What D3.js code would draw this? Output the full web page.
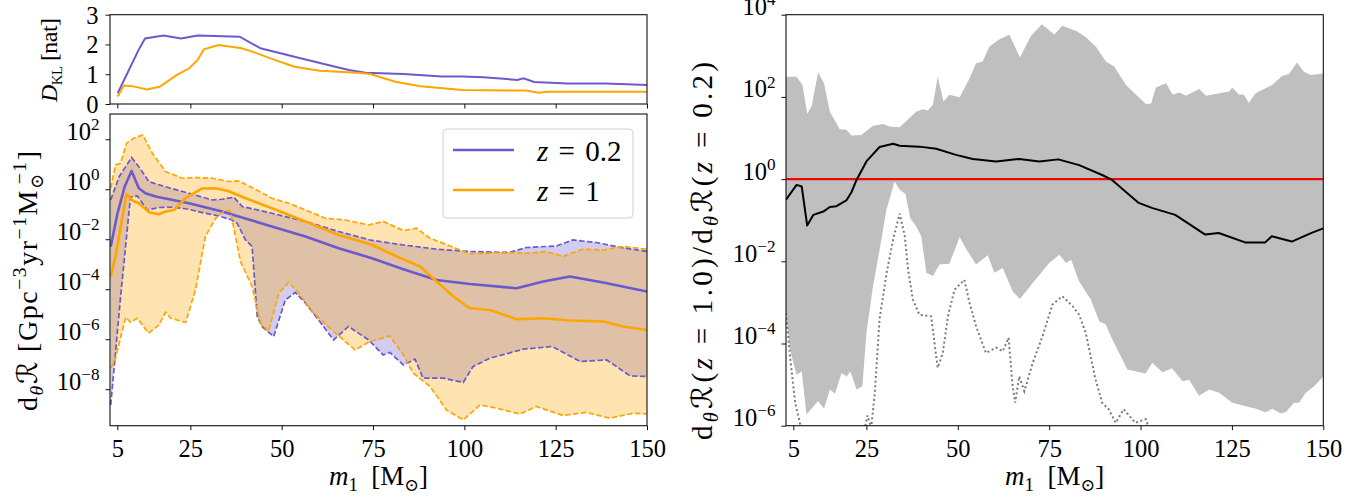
<!DOCTYPE html>
<html>
<head>
<meta charset="utf-8">
<script src="https://cdn.jsdelivr.net/npm/d3@7"></script>
<style>
  html, body { margin: 0; padding: 0; background: #fff; }
  svg text { font-family: "Liberation Serif", "DejaVu Serif", "DejaVu Sans", serif; fill: #000; }
</style>
</head>
<body>
<script>
// ---------------- DATA ----------------
const massTicks = [5, 25, 50, 75, 100, 125, 150];
const dklTicks = [0, 1, 2, 3];
const rateTickExps = [-8, -6, -4, -2, 0, 2];
const ratioTickExps = [-6, -4, -2, 0, 2, 4];

// KL divergence (top-left)
const dklMassZ02 = [5.1, 10.8, 12.6, 17.7, 22.4, 27, 38.5, 44.2, 53.5, 62.7, 68.4, 73, 83.4, 93.8, 99.5, 105.3, 114.5, 116.2, 119.1, 128.3, 138.7, 150];
const dklZ02 = [0.36, 1.81, 2.2, 2.3, 2.2, 2.3, 2.26, 1.87, 1.59, 1.31, 1.14, 1.05, 1.01, 0.92, 0.92, 0.9, 0.81, 0.86, 0.74, 0.69, 0.69, 0.64];
const dklMassZ1 = [5.1, 6.8, 9.1, 13.1, 16.6, 21.2, 24.7, 27, 28.7, 32.7, 39.1, 41.9, 47.7, 53.5, 60.4, 70.7, 74.2, 81.1, 88, 99.5, 116.8, 120.3, 122.6, 150];
const dklZ1 = [0.25, 0.62, 0.6, 0.49, 0.58, 0.97, 1.2, 1.48, 1.84, 1.98, 1.87, 1.76, 1.5, 1.25, 1.12, 1.05, 1.01, 0.75, 0.6, 0.47, 0.45, 0.38, 0.41, 0.41];

// Rate (bottom-left), values given as log10 of the rate
const massZ02Med = [3.2, 5, 7, 8.9, 10, 10.9, 12.7, 15.5, 24.6, 33.7, 38.2, 47.3, 56.5, 65.6, 74.7, 83.3, 92.4, 101.5, 114.3, 121.6, 128.9, 138, 150];
const log10Z02Med = [-2.3, -1.0, 0.1, 0.73, 0.35, 0.04, -0.16, -0.29, -0.56, -0.89, -1.09, -1.49, -1.89, -2.36, -2.76, -3.2, -3.63, -3.79, -3.96, -3.69, -3.49, -3.73, -4.09];
const massZ02Hi = [3.2, 5.5, 8.9, 10.9, 13.7, 18.2, 24.6, 31, 33.7, 36.9, 39.2, 47.3, 56.5, 65.6, 74.2, 83.3, 92.4, 101.5, 112.4, 117, 125.2, 129.7, 136.1, 142.5, 150];
const log10Z02Hi = [-0.43, 0.5, 1.27, 0.9, 0.3, 0.1, -0.16, -0.43, -0.4, -0.32, -0.69, -0.96, -1.29, -1.69, -2.03, -2.23, -2.4, -2.49, -2.53, -2.33, -2.27, -2.03, -2.13, -2.32, -2.49];
const massZ02Lo = [3.2, 5.9, 8.6, 10.5, 13.2, 16.4, 20, 24.1, 29.1, 32.8, 36.4, 37.8, 40.1, 41.9, 43.3, 44.6, 47.8, 51, 53.7, 56.5, 60.1, 64.2, 68.3, 73.8, 77.8, 79.6, 83.3, 86.5, 88.7, 94.2, 99.7, 102.4, 107, 116.1, 124, 131.7, 139, 145.4, 150];
const log10Z02Lo = [-8.63, -4.3, -0.32, -0.27, -0.83, -0.73, -0.72, -0.79, -0.96, -1.07, -1.23, -1.36, -2.03, -2.29, -5.09, -5.49, -5.89, -4.43, -4.13, -4.56, -5.23, -6.03, -5.49, -6.03, -6.63, -6.53, -7.03, -6.8, -7.56, -7.56, -7.73, -7.09, -6.76, -6.4, -6.29, -6.89, -6.83, -7.47, -7.49];
const massZ1Med = [3.2, 4.5, 7.5, 9.1, 10.9, 13.7, 16.4, 18.2, 20.5, 23.7, 28.2, 31.9, 35.5, 40.1, 47.3, 56.5, 65.6, 74.5, 81.5, 87.9, 92.4, 97, 101.5, 107, 114.3, 121.6, 128.9, 138, 143.5, 150];
const log10Z1Med = [-3.49, -2.69, -0.19, -0.45, -0.56, -0.92, -1.0, -0.89, -0.83, -0.36, 0.03, 0.04, -0.08, -0.36, -0.76, -1.29, -1.83, -2.21, -2.69, -3.09, -3.69, -4.29, -4.76, -4.83, -5.2, -5.16, -5.25, -5.29, -5.49, -5.63];
const massZ1Hi = [3.2, 4.5, 5.9, 7.5, 10, 12, 14.6, 18.2, 22.8, 26.4, 31, 35.5, 38.2, 42.8, 47.3, 51.9, 56.5, 61.9, 67.4, 73.8, 77.8, 83.3, 86.9, 90.6, 96.1, 101.5, 110.7, 117.9, 122.5, 127, 132.5, 138, 143.5, 150];
const log10Z1Hi = [0.04, 0.97, 1.04, 1.84, 2.08, 2.17, 1.44, 0.71, 0.44, 0.47, 0.44, 0.31, 0.33, 0, -0.36, -0.56, -0.83, -1.16, -1.23, -1.43, -1.29, -1.65, -1.56, -1.96, -2.27, -2.59, -2.53, -2.56, -2.49, -2.69, -2.4, -2.43, -2.29, -2.4];
const massZ1Lo = [3.2, 4.5, 7.3, 8.6, 10.5, 13.5, 16.4, 18.2, 19.6, 23.7, 26.4, 29.1, 31.9, 34.6, 36, 38.7, 41.9, 44.2, 46.4, 49.2, 51.9, 54.6, 58.3, 63.7, 70.1, 74, 79.6, 83.3, 86, 90.6, 95.1, 99.7, 104.3, 108.8, 115.2, 119.7, 127, 133.4, 139.8, 146.2, 150];
const log10Z1Lo = [-7.16, -6.76, -5.12, -5.32, -5.16, -5.76, -5.43, -4.92, -5.16, -5.33, -4.03, -1.89, -1.16, -0.83, -0.89, -2.89, -3.89, -5.36, -5.69, -4.16, -3.73, -4.13, -4.89, -5.63, -6.43, -6.1, -5.87, -6.63, -7.36, -7.89, -8.83, -9.23, -8.63, -8.76, -8.99, -8.69, -9.05, -8.93, -9.16, -8.96, -8.99];

// Ratio (right), values given as log10 of the ratio
const massRatioMed = [3, 5.9, 7.3, 8.8, 10.5, 13.2, 15, 16.8, 19.5, 20.9, 22.3, 25, 28.6, 32.3, 34.1, 39.5, 44.1, 49.5, 54.1, 60.5, 66.8, 72.3, 77.5, 83.2, 89.5, 92.2, 99.5, 103.1, 109.5, 117.7, 121.4, 128.6, 134.1, 135.9, 141.4, 146.8, 150];
const log10RatioMed = [-0.5, -0.14, -0.18, -1.13, -0.87, -0.79, -0.68, -0.66, -0.52, -0.32, -0.02, 0.43, 0.78, 0.86, 0.81, 0.79, 0.74, 0.59, 0.49, 0.43, 0.49, 0.43, 0.48, 0.34, 0.1, -0.02, -0.58, -0.7, -0.87, -1.35, -1.31, -1.54, -1.54, -1.39, -1.52, -1.31, -1.2];
const massRatioHi = [3, 5.9, 7.5, 8.8, 10, 11.8, 13.4, 15, 17.7, 19.5, 20.9, 23.6, 26.8, 29.5, 31.4, 34.1, 38.6, 40.5, 41.8, 43.2, 44.5, 46.1, 47.7, 50.5, 53.2, 55, 56.8, 58.6, 61.4, 64.1, 67, 70, 73, 76.4, 78.6, 82.3, 85, 87.8, 90.5, 92.8, 96, 98.8, 101.5, 102.9, 104.2, 107, 108.8, 110.6, 112.4, 116.1, 117.9, 124.2, 125.1, 126.9, 128.3, 129.6, 131.5, 136, 138.7, 140.6, 142.8, 144.7, 146.5, 150];
const log10RatioHi = [2.49, 2.49, 2.29, 1.59, 1.77, 2.6, 2.33, 1.64, 1.21, 1.2, 1.06, 1.07, 1.3, 1.34, 1.28, 1.26, 1.64, 1.7, 1.67, 1.81, 2.49, 1.89, 2.05, 1.99, 2.45, 2.82, 2.86, 3.22, 3.4, 3.51, 2.96, 3.48, 3.77, 3.52, 3.73, 3.61, 3.46, 3.22, 2.86, 2.74, 2.29, 2.05, 1.83, 1.84, 2.23, 2.33, 2.05, 2.11, 2.03, 2.19, 2.03, 2.13, 2.23, 2.06, 2.05, 1.86, 2.09, 2.29, 2.51, 2.56, 2.84, 2.61, 2.53, 2.57];
const massRatioLo = [3, 4.1, 5.9, 7.3, 8.6, 11.8, 13.4, 15, 16.4, 18.2, 19.6, 20.6, 22.3, 23.9, 25, 26.8, 28.6, 30.5, 32.7, 34.1, 35.7, 37, 38.6, 40, 41.4, 43.2, 45, 47.7, 50.5, 52.3, 55, 58.2, 60, 62.3, 65, 67, 70.5, 75, 77.8, 79.6, 81, 83.2, 86.4, 88.7, 90.5, 92.3, 96.4, 101.4, 103.2, 106, 108.6, 111.5, 113.3, 116, 118.8, 121.5, 125.1, 131.5, 134.2, 136, 138.3, 139.7, 142, 143.4, 145.2, 147.5, 150];
const log10RatioLo = [-3.2, -4.15, -4.76, -4.68, -5.73, -5.4, -5.59, -5.12, -5.22, -4.72, -4.8, -4.68, -5.12, -5.04, -3.74, -2.61, -1.72, -0.74, -0.06, -0.26, -0.36, -0.95, -1.15, -1.39, -2.28, -2.36, -2.08, -2.06, -1.41, -1.7, -2.08, -1.85, -2.28, -2.16, -2.73, -2.92, -2.53, -2.04, -1.84, -2.04, -1.96, -2.49, -2.93, -3.46, -3.54, -3.91, -4.63, -4.73, -4.47, -4.7, -4.6, -4.92, -4.88, -5.27, -5.12, -5.2, -5.44, -5.59, -5.67, -5.59, -5.7, -5.67, -5.44, -5.44, -5.2, -5.04, -4.8];
const massRatioDot = [3, 4.2, 5.5, 6.9, 8, 15, 23.5, 25.3, 26.3, 27.3, 28.6, 30.5, 32.3, 34.1, 35.5, 36.4, 37.7, 39.5, 42.7, 44.5, 45.9, 47.3, 49.1, 51.8, 53.2, 55, 57.7, 60.5, 62.3, 63.9, 65, 65.7, 66.8, 68.2, 70.5, 73.2, 75.9, 78.6, 81.4, 83.2, 85, 87.7, 89.5, 91.3, 93.2, 95.4, 98.6, 101.4, 102.5, 104];
const log10RatioDot = [-3.26, -4.39, -5.44, -5.97, -6.5, -7, -6.5, -5.75, -6.05, -5.2, -3.4, -2.3, -1.47, -0.84, -1.39, -2.2, -2.93, -3.3, -3.34, -4.59, -4.23, -3.34, -2.69, -2.45, -3.01, -3.58, -4.23, -4.1, -4.19, -3.86, -5.04, -5.44, -4.8, -5.16, -4.47, -3.82, -3.05, -2.85, -3.09, -3.3, -3.74, -4.88, -5.44, -5.6, -5.93, -5.6, -5.93, -5.84, -6.1, -7];

const legendLabels = [["z", " = 0.2"], ["z", " = 1"]];

// ---------------- STYLE ----------------
const C_Z02 = "#6a5acd", C_Z1 = "#ffa500";
const TICK_FS = 24.5, LABEL_FS = 27;

const svg = d3.select("body").append("svg").attr("width", 1372).attr("height", 499);

function rich(sel, parts, base) {
  let cur = 0;
  parts.forEach(p => {
    const shift = p.sup ? -0.4 * base : (p.sub ? 0.22 * base : 0);
    const ts = sel.append("tspan").text(p.t).attr("dy", (shift - cur).toFixed(2));
    ts.attr("font-size", (p.sup || p.sub) ? (base * (p.scale || 0.7)).toFixed(1) : base);
    if (p.it) ts.attr("font-style", "italic");
    if (p.dx) ts.attr("dx", p.dx);
    cur = shift;
  });
}

const pts = (ms, vs, log) => ms.map((m, i) => [m, log ? Math.pow(10, vs[i]) : vs[i]]);

function frame(g, x0, y0, x1, y1) {
  g.append("rect").attr("x", x0).attr("y", y0).attr("width", x1 - x0).attr("height", y1 - y0)
    .attr("fill", "none").attr("stroke", "#111").attr("stroke-width", 1.1);
}

function xAxis(g, x, y1, labels) {
  const ax = g.append("g").attr("transform", `translate(0,${y1})`)
    .call(d3.axisBottom(x).tickValues(massTicks).tickSize(4.5).tickPadding(9)
      .tickFormat(labels ? d3.format("d") : ""));
  ax.select(".domain").remove();
  ax.selectAll(".tick line").attr("stroke", "#111").attr("stroke-width", 1);
  if (labels) ax.selectAll("text").attr("font-size", TICK_FS).attr("font-family", null);
  else ax.selectAll("text").remove();
}

function logYAxis(g, y, x0, exps) {
  const ax = g.append("g").attr("transform", `translate(${x0},0)`)
    .call(d3.axisLeft(y).tickValues(exps.map(e => Math.pow(10, e))).tickSize(4.5).tickPadding(6).tickFormat(""));
  ax.select(".domain").remove();
  ax.selectAll(".tick line").attr("stroke", "#111").attr("stroke-width", 1);
  ax.selectAll(".tick").each(function (d) {
    const e = Math.round(Math.log10(d));
    const t = d3.select(this).select("text").attr("font-size", TICK_FS).attr("font-family", null).attr("dy", "0.36em");
    t.text(null);
    rich(t, [{ t: "10" }, { t: e < 0 ? "\u2212" + (-e) : String(e), sup: true }], TICK_FS);
  });
}

function yLabel(x, y, parts, fs, len) {
  const t = svg.append("text").attr("transform", `translate(${x},${y}) rotate(-90)`)
    .attr("text-anchor", "middle").attr("font-size", fs);
  rich(t, parts, fs);
  if (len) t.attr("textLength", len).attr("lengthAdjust", "spacing");
  return t;
}
function xLabel(x, y, fs) {
  const t = svg.append("text").attr("x", x).attr("y", y).attr("text-anchor", "middle").attr("font-size", fs);
  rich(t, [{ t: "m", it: true }, { t: "1", sub: true }, { t: "\u2002[M" }, { t: "\u2299", sub: true, scale: 0.65 }, { t: "]" }], fs);
}

// ---------------- TOP-LEFT: D_KL ----------------
const LX0 = 110, LX1 = 647;
const xL = d3.scaleLinear().domain([3, 150]).range([LX0, LX1]);
{
  const y0 = 14.7, y1 = 104;
  const y = d3.scaleLinear().domain([0, 3]).range([y1, y0]);
  const g = svg.append("g");
  const line = d3.line().x(d => xL(d[0])).y(d => y(d[1]));
  g.append("path").attr("d", line(pts(dklMassZ02, dklZ02))).attr("fill", "none").attr("stroke", C_Z02).attr("stroke-width", 2);
  g.append("path").attr("d", line(pts(dklMassZ1, dklZ1))).attr("fill", "none").attr("stroke", C_Z1).attr("stroke-width", 2);
  frame(g, LX0, y0, LX1, y1);
  xAxis(g, xL, y1, false);
  const ax = g.append("g").attr("transform", `translate(${LX0},0)`)
    .call(d3.axisLeft(y).tickValues(dklTicks).tickSize(4.5).tickPadding(7).tickFormat(d3.format("d")));
  ax.select(".domain").remove();
  ax.selectAll(".tick line").attr("stroke", "#111");
  ax.selectAll("text").attr("font-size", TICK_FS).attr("font-family", null).attr("dy", "0.34em");
  yLabel(57, 60, [{ t: "D", it: true }, { t: "KL", sub: true, scale: 0.62 }, { t: " [nat]" }], 24, 84);
}

// ---------------- BOTTOM-LEFT: rate ----------------
{
  const y0 = 114, y1 = 425.7;
  const y = d3.scaleLog().domain([Math.pow(10, -9.46), Math.pow(10, 3.01)]).range([y1, y0]);
  svg.append("clipPath").attr("id", "clipL").append("rect").attr("x", LX0).attr("y", y0).attr("width", LX1 - LX0).attr("height", y1 - y0);
  const g = svg.append("g");
  const gc = g.append("g").attr("clip-path", "url(#clipL)");
  const line = d3.line().x(d => xL(d[0])).y(d => y(d[1]));
  const band = (hiM, hiV, loM, loV) => line(pts(hiM, hiV, true).concat(pts(loM, loV, true).reverse())) + "Z";
  gc.append("path").attr("d", band(massZ02Hi, log10Z02Hi, massZ02Lo, log10Z02Lo)).attr("fill", C_Z02).attr("fill-opacity", 0.3);
  gc.append("path").attr("d", band(massZ1Hi, log10Z1Hi, massZ1Lo, log10Z1Lo)).attr("fill", C_Z1).attr("fill-opacity", 0.3);
  const dashed = (m, v, c) => gc.append("path").attr("d", line(pts(m, v, true))).attr("fill", "none").attr("stroke", c)
    .attr("stroke-width", 1.7).attr("stroke-dasharray", "5.5,2.4");
  const solid = (m, v, c) => gc.append("path").attr("d", line(pts(m, v, true))).attr("fill", "none").attr("stroke", c)
    .attr("stroke-width", 2.6).attr("stroke-linejoin", "round");
  solid(massZ02Med, log10Z02Med, C_Z02);
  dashed(massZ02Hi, log10Z02Hi, C_Z02);
  dashed(massZ02Lo, log10Z02Lo, C_Z02);
  solid(massZ1Med, log10Z1Med, C_Z1);
  dashed(massZ1Hi, log10Z1Hi, C_Z1);
  dashed(massZ1Lo, log10Z1Lo, C_Z1);
  frame(g, LX0, y0, LX1, y1);
  xAxis(g, xL, y1, true);
  logYAxis(g, y, LX0, rateTickExps);

  // legend
  const lg = svg.append("g");
  lg.append("rect").attr("x", 443).attr("y", 129).attr("width", 190).attr("height", 89).attr("rx", 4)
    .attr("fill", "#fff").attr("fill-opacity", 0.8).attr("stroke", "#d0d0d0").attr("stroke-width", 1);
  [C_Z02, C_Z1].forEach((c, i) => {
    const yy = 150 + i * 40;
    lg.append("line").attr("x1", 453).attr("x2", 514).attr("y1", yy).attr("y2", yy).attr("stroke", c).attr("stroke-width", 2.6);
    const t = lg.append("text").attr("x", 537).attr("y", yy + 11).attr("font-size", 29).attr("word-spacing", 3);
    rich(t, [{ t: legendLabels[i][0], it: true }, { t: legendLabels[i][1] }], 29);
  });

  yLabel(37, 281, [
    { t: "d" }, { t: "\u03b8", sub: true, it: true }, { t: "\u211b" }, { t: " [Gpc" },
    { t: "\u22123", sup: true }, { t: "yr" }, { t: "\u22121", sup: true }, { t: "M" },
    { t: "\u2299", sub: true, scale: 0.65 }, { t: "\u22121", sup: true, dx: -12 }, { t: "]" }
  ], 28, 260);
  xLabel(378.5, 485, LABEL_FS);
}

// ---------------- RIGHT: ratio ----------------
{
  const RX0 = 786, RX1 = 1323.3, y0 = 14.7, y1 = 425.7;
  const x = d3.scaleLinear().domain([3, 150]).range([RX0, RX1]);
  const y = d3.scaleLog().domain([1e-6, 1e4]).range([y1, y0]);
  svg.append("clipPath").attr("id", "clipR").append("rect").attr("x", RX0).attr("y", y0).attr("width", RX1 - RX0).attr("height", y1 - y0);
  const g = svg.append("g");
  const gc = g.append("g").attr("clip-path", "url(#clipR)");
  const line = d3.line().x(d => x(d[0])).y(d => y(d[1]));
  gc.append("path").attr("d", line(pts(massRatioHi, log10RatioHi, true).concat(pts(massRatioLo, log10RatioLo, true).reverse())) + "Z")
    .attr("fill", "#bfbfbf");
  gc.append("path").attr("d", line(pts(massRatioDot, log10RatioDot, true))).attr("fill", "none").attr("stroke", "#7a7a7a")
    .attr("stroke-width", 2).attr("stroke-dasharray", "2,2.6");
  gc.append("path").attr("d", line([[3, 1], [150, 1]])).attr("stroke", "#ff0000").attr("stroke-width", 2.2);
  gc.append("path").attr("d", line(pts(massRatioMed, log10RatioMed, true))).attr("fill", "none").attr("stroke", "#000")
    .attr("stroke-width", 2).attr("stroke-linejoin", "round");
  frame(g, RX0, y0, RX1, y1);
  xAxis(g, x, y1, true);
  logYAxis(g, y, RX0, ratioTickExps);

  yLabel(712, 251, [
    { t: "d" }, { t: "\u03b8", sub: true, it: true }, { t: "\u211b(" }, { t: "z", it: true }, { t: " = 1.0)/d" },
    { t: "\u03b8", sub: true, it: true }, { t: "\u211b(" }, { t: "z", it: true }, { t: " = 0.2)" }
  ], 29, 378);
  xLabel((RX0 + RX1) / 2, 485, LABEL_FS);
}
</script>
</body>
</html>
